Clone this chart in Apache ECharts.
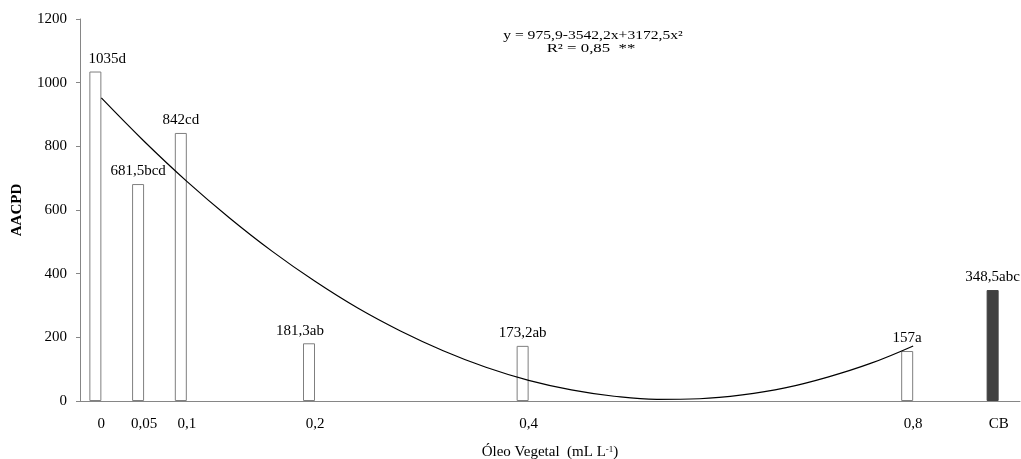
<!DOCTYPE html>
<html>
<head>
<meta charset="utf-8">
<script src="https://cdn.jsdelivr.net/npm/echarts@6/dist/echarts.min.js"></script>
<style>
  html, body { margin: 0; padding: 0; background: #fff; }
  #main { width: 1021px; height: 459px; }
</style>
</head>
<body>
<div id="main"></div>
<script>
// category slots along the x axis (Excel-style spacing, blanks keep the gaps)
var categories = ['0', '0,05', '0,1', '', '', '0,2', '', '', '', '', '0,4',
  '', '', '', '', '', '', '', '', '0,8', '', 'CB'];

// AACPD per slot and the letters of the mean comparison test
var aacpd = [1035, 681.5, 842, null, null, 181.3, null, null, null, null, 173.2,
  null, null, null, null, null, null, null, null, 157, null, 348.5];
var letters = ['d', 'bcd', 'cd', '', '', 'ab', '', '', '', '', 'ab',
  '', '', '', '', '', '', '', '', 'a', '', 'abc'];

// fitted curve, one point per slot
var trend = [952, 816, 690, 575, 470, 376, 292, 220, 158, 106, 65,
  35, 15, 5, 7, 19, 41, 75, 118, 173];

var yTicks = [0, 200, 400, 600, 800, 1000, 1200];

var chartDom = document.getElementById('main');
var myChart = echarts.init(chartDom, null, { renderer: 'canvas' });

var font = 'Liberation Serif';
var axisGray = '#868686';

function fmt(v) {
  return String(v).replace('.', ',');
}

var barData = aacpd.map(function (v, i) {
  if (v === null) return '-';
  var item = { value: v };
  if (categories[i] === 'CB') {
    item.itemStyle = { color: '#404040', borderColor: '#404040' };
  }
  if (i === 0) item.label = { offset: [12, 0] };
  if (i === 5) item.label = { offset: [-9, 0] };
  return item;
});

var option = {
  backgroundColor: '#fff',
  animation: false,
  textStyle: { fontFamily: font },
  grid: { left: 80, right: 1, top: 19, bottom: 58, containLabel: false, outerBoundsMode: 'none' },
  xAxis: {
    type: 'category',
    data: categories,
    boundaryGap: true,
    axisLine: { lineStyle: { color: axisGray, width: 1 } },
    axisTick: { show: false },
    axisLabel: {
      interval: 0,
      margin: 16,
      color: '#000',
      fontFamily: font,
      fontSize: 15
    },
    name: 'Óleo Vegetal  (mL L{sup|-1})',
    nameLocation: 'middle',
    nameGap: 44,
    nameTextStyle: {
      color: '#000',
      fontFamily: font,
      fontSize: 15,
      rich: {
        sup: { fontSize: 9, verticalAlign: 'top', padding: [0, 0, 6, 0], fontFamily: font, color: '#000' }
      }
    }
  },
  yAxis: {
    type: 'value',
    min: yTicks[0],
    max: yTicks[yTicks.length - 1],
    interval: 200,
    splitLine: { show: false },
    axisLine: { show: true, lineStyle: { color: axisGray, width: 1 } },
    axisTick: { show: true, length: 4, lineStyle: { color: axisGray } },
    axisLabel: {
      margin: 13,
      color: '#000',
      fontFamily: font,
      fontSize: 15,
      formatter: function (v) { return String(v); }
    },
    name: 'AACPD',
    nameLocation: 'middle',
    nameGap: 55,
    nameRotate: 90,
    nameTextStyle: { color: '#000', fontFamily: font, fontSize: 15, fontWeight: 'bold' }
  },
  graphic: [
    {
      type: 'text',
      x: 593,
      y: 36,
      scaleX: 1.3,
      style: {
        text: 'y = 975,9-3542,2x+3172,5x²',
        fontFamily: font,
        fontSize: 12,
        fill: '#000',
        align: 'center',
        verticalAlign: 'middle'
      }
    },
    {
      type: 'text',
      x: 591,
      y: 49,
      scaleX: 1.4,
      style: {
        text: 'R² = 0,85  **',
        fontFamily: font,
        fontSize: 12,
        fill: '#000',
        align: 'center',
        verticalAlign: 'middle'
      }
    }
  ],
  series: [
    {
      name: 'AACPD',
      type: 'bar',
      barWidth: 12,
      barGap: '0%',
      data: barData,
      itemStyle: { color: '#fff', borderColor: '#7f7f7f', borderWidth: 1 },
      label: {
        show: true,
        position: 'top',
        distance: 5,
        color: '#000',
        fontFamily: font,
        fontSize: 15,
        formatter: function (p) {
          return fmt(p.value) + letters[p.dataIndex];
        }
      },
      z: 2
    },
    {
      name: 'spacer',
      type: 'bar',
      barWidth: 12,
      data: categories.map(function () { return '-'; }),
      silent: true
    },
    {
      name: 'trend',
      type: 'line',
      data: trend,
      smooth: 0.4,
      showSymbol: false,
      symbol: 'none',
      lineStyle: { color: '#000', width: 1.2 },
      z: 3
    }
  ]
};

myChart.setOption(option);
</script>
</body>
</html>
